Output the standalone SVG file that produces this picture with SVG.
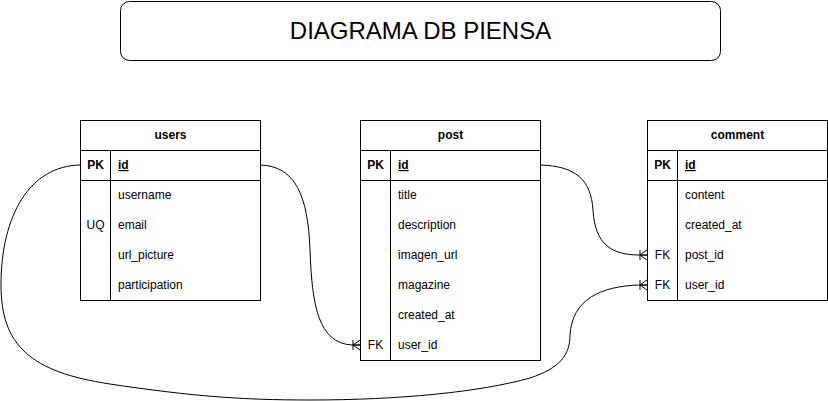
<svg xmlns="http://www.w3.org/2000/svg" width="828" height="401" viewBox="0 0 828 401">
<style>
  .box{fill:#ffffff;stroke:#000000;stroke-width:1}
  .ln{stroke:#000000;stroke-width:1;fill:none}
  .t{font-family:"Liberation Sans",Arial,sans-serif;font-size:12px;fill:#000000}
  .h{font-family:"Liberation Sans",Arial,sans-serif;font-size:12px;font-weight:bold;fill:#000000;text-anchor:middle}
  .k{font-family:"Liberation Sans",Arial,sans-serif;font-size:12px;fill:#000000;text-anchor:middle}
  .kb{font-family:"Liberation Sans",Arial,sans-serif;font-size:12px;font-weight:bold;fill:#000000;text-anchor:middle}
  .pk{font-family:"Liberation Sans",Arial,sans-serif;font-size:12px;font-weight:bold;fill:#000000;text-decoration:underline}
  .title{font-family:"Liberation Sans",Arial,sans-serif;font-size:24px;fill:#000000;text-anchor:middle}
  .conn{stroke:#000000;stroke-width:1;fill:none}
</style>
<defs>
  <marker id="ermany" markerWidth="10" markerHeight="12" refX="8" refY="6" orient="auto" markerUnits="userSpaceOnUse">
    <path d="M1,1 L1,11 M1,6 L8,1 M1,6 L8,11 M1,6 L8,6" stroke="#000000" stroke-width="1" fill="none"/>
  </marker>
</defs>

<g id="title">
  <rect class="box" x="120.5" y="1.5" width="600" height="59" rx="9" ry="9"/>
  <text class="title" x="420.5" y="39">DIAGRAMA DB PIENSA</text>
</g>

<g id="connectors">
  <path class="conn" d="M260,165 C295,166 308,195 310,250 C312,305 318,343 352,345 L360,345" marker-end="url(#ermany)"/>
  <path class="conn" d="M540,165 C576,166 591,180 593,210 C595,245 612,255 640,255 L647,255" marker-end="url(#ermany)"/>
  <path class="conn" d="M80,165 C30,166 1,215 1,285 C1,345 30,372 110,384 C190,396 240,400 310,400 C400,400 480,392 530,378 C560,368 570,355 570,335 C572,300 600,286 640,285 L647,285" marker-end="url(#ermany)"/>
</g>

<g id="users">
  <rect class="box" x="80.5" y="120.5" width="180" height="180"/>
  <line class="ln" x1="80.5" y1="150.5" x2="260.5" y2="150.5"/>
  <line class="ln" x1="80.5" y1="180.5" x2="260.5" y2="180.5"/>
  <line class="ln" x1="110.5" y1="150.5" x2="110.5" y2="300.5"/>
  <text class="h" x="170.5" y="139">users</text>
  <text class="kb" x="95.5" y="169">PK</text>
  <text class="pk" x="118" y="169">id</text>
  <text class="t" x="118" y="199">username</text>
  <text class="k" x="95.5" y="229">UQ</text>
  <text class="t" x="118" y="229">email</text>
  <text class="t" x="118" y="259">url_picture</text>
  <text class="t" x="118" y="289">participation</text>
</g>

<g id="post">
  <rect class="box" x="360.5" y="120.5" width="180" height="240"/>
  <line class="ln" x1="360.5" y1="150.5" x2="540.5" y2="150.5"/>
  <line class="ln" x1="360.5" y1="180.5" x2="540.5" y2="180.5"/>
  <line class="ln" x1="390.5" y1="150.5" x2="390.5" y2="360.5"/>
  <text class="h" x="450.5" y="139">post</text>
  <text class="kb" x="375.5" y="169">PK</text>
  <text class="pk" x="398" y="169">id</text>
  <text class="t" x="398" y="199">title</text>
  <text class="t" x="398" y="229">description</text>
  <text class="t" x="398" y="259">imagen_url</text>
  <text class="t" x="398" y="289">magazine</text>
  <text class="t" x="398" y="319">created_at</text>
  <text class="k" x="375.5" y="349">FK</text>
  <text class="t" x="398" y="349">user_id</text>
</g>

<g id="comment">
  <rect class="box" x="647.5" y="120.5" width="180" height="180"/>
  <line class="ln" x1="647.5" y1="150.5" x2="827.5" y2="150.5"/>
  <line class="ln" x1="647.5" y1="180.5" x2="827.5" y2="180.5"/>
  <line class="ln" x1="677.5" y1="150.5" x2="677.5" y2="300.5"/>
  <text class="h" x="737.5" y="139">comment</text>
  <text class="kb" x="662.5" y="169">PK</text>
  <text class="pk" x="685" y="169">id</text>
  <text class="t" x="685" y="199">content</text>
  <text class="t" x="685" y="229">created_at</text>
  <text class="k" x="662.5" y="259">FK</text>
  <text class="t" x="685" y="259">post_id</text>
  <text class="k" x="662.5" y="289">FK</text>
  <text class="t" x="685" y="289">user_id</text>
</g>
</svg>
